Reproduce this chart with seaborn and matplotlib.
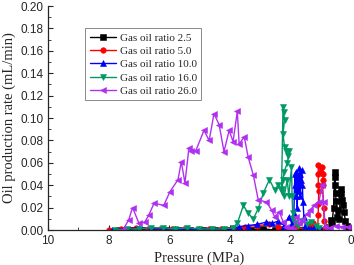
import numpy as np
import pandas as pd
import matplotlib
matplotlib.use("Agg")
import matplotlib.pyplot as plt
import seaborn as sns
from matplotlib.ticker import MultipleLocator

# Pressure (MPa) and oil production rate (mL/min)
p_25 = [7.65, 7.3, 6.9, 6.5, 6.1, 5.7, 5.3, 4.9, 4.5, 4.1, 3.7, 3.3, 2.9, 2.5, 2.2,
        1.9, 1.6, 1.3, 1.0, 0.8, 0.72, 0.66, 0.62, 0.57, 0.53, 0.52, 0.51, 0.5, 0.49,
        0.46, 0.42, 0.38, 0.34, 0.31, 0.28, 0.25, 0.22, 0.18, 0.14, 0.1]
r_25 = [0, 0, 0, 0, 0, 0, 0, 0, 0, 0, 0, 0, 0.001, 0, 0.001,
        0.001, 0, 0.001, 0, 0.001, 0.003, 0.009, 0.006, 0.02, 0.052, 0.047, 0.04, 0.033, 0.026,
        0.012, 0.018, 0.01, 0.037, 0.032, 0.027, 0.022, 0.016, 0.008, 0.004, 0.002]

p_50 = [8.0, 7.6, 7.1, 6.7, 6.3, 5.9, 5.5, 5.1, 4.7, 4.3, 3.9, 3.5, 3.1, 2.7, 2.4,
        2.1, 1.8, 1.5, 1.35, 1.25, 1.15, 1.09, 1.08, 1.07, 1.06, 1.07, 1.08, 1.07, 1.0,
        0.94, 0.92, 0.91, 0.93, 0.9, 0.88, 0.85]
r_50 = [0, 0.001, 0.002, 0.001, 0.001, 0.001, 0.001, 0, 0.001, 0.001, 0.002, 0.003, 0.004, 0.005, 0.003,
        0.001, 0.002, 0.001, 0.004, 0.006, 0.002, 0.0, 0.013, 0.023, 0.035, 0.04, 0.05, 0.058, 0.052,
        0.056, 0.05, 0.045, 0.04, 0.02, 0.008, 0.002]

p_100 = [7.9, 7.5, 7.0, 6.6, 6.2, 5.8, 5.4, 5.0, 4.6, 4.2, 3.9, 3.7, 3.4, 3.1, 2.8,
         2.6, 2.4, 2.2, 2.05, 1.95, 1.88, 1.86, 1.84, 1.82, 1.8, 1.79, 1.77, 1.75, 1.72,
         1.7, 1.69, 1.67, 1.65, 1.62, 1.6, 1.58, 1.55, 1.5, 1.4, 1.3, 1.2, 1.1, 1.0]
r_100 = [0, 0.001, 0.002, 0.001, 0.001, 0.001, 0, 0.001, 0.001, 0.001, 0.001, 0.003, 0.004, 0.005, 0.007,
         0.006, 0.008, 0.004, 0.012, 0.006, 0.015, 0.04, 0.05, 0.03, 0.052, 0.045, 0.02, 0.048, 0.035,
         0.055, 0.05, 0.03, 0.045, 0.054, 0.04, 0.025, 0.012, 0.004, 0.002, 0.001, 0.002, 0.001, 0]

p_160 = [7.8, 7.4, 7.0, 6.6, 6.2, 5.8, 5.4, 5.0, 4.6, 4.2, 3.9, 3.75, 3.55, 3.39, 3.22,
         3.06, 2.89, 2.69, 2.52, 2.4, 2.29, 2.24, 2.22, 2.19, 2.24, 2.19, 2.13, 2.07, 2.03,
         2.1, 2.2, 2.24, 2.27, 2.2, 2.1, 2.05, 1.96, 1.94, 1.92, 1.9, 1.85, 1.75, 1.6,
         1.45, 1.3, 1.15, 1.05]
r_160 = [0, 0.001, 0.001, 0.002, 0.002, 0.001, 0.002, 0.001, 0.001, 0.001, 0.002, 0.006, 0.022, 0.015, 0.01,
         0.019, 0.033, 0.045, 0.036, 0.04, 0.034, 0.11, 0.105, 0.098, 0.086, 0.074, 0.071, 0.066, 0.071,
         0.06, 0.052, 0.045, 0.037, 0.03, 0.045, 0.03, 0.056, 0.03, 0.015, 0.01, 0.006, 0.004, 0.008,
         0.005, 0.007, 0.004, 0.002]

p_260 = [7.53, 7.34, 7.21, 7.0, 6.81, 6.68, 6.5, 6.18, 5.98, 5.71, 5.6, 5.48, 5.35, 5.28, 5.12,
         4.85, 4.68, 4.52, 4.35, 4.19, 4.02, 3.89, 3.75, 3.69, 3.52, 3.39, 3.22, 3.06, 2.79,
         2.62, 2.52, 2.36, 2.23, 2.13, 2.0, 1.9, 1.8, 1.7, 1.6, 1.45, 1.35, 1.2, 1.05,
         0.96, 0.9, 0.85, 0.7, 0.5, 0.3, 0.1]
r_260 = [0, 0.009, 0.02, 0.006, 0.007, 0.013, 0.024, 0.022, 0.034, 0.045, 0.061, 0.042, 0.073, 0.071, 0.071,
         0.089, 0.08, 0.104, 0.094, 0.07, 0.089, 0.079, 0.106, 0.077, 0.083, 0.065, 0.049, 0.027, 0.025,
         0.018, 0.012, 0.016, 0.007, 0.003, 0.002, 0.0, 0.012, 0.006, 0.009, 0.014, 0.018, 0.022, 0.025,
         0.04, 0.025, 0.003, 0.002, 0.004, 0.003, 0.003]

labels = ["Gas oil ratio 2.5", "Gas oil ratio 5.0", "Gas oil ratio 10.0",
          "Gas oil ratio 16.0", "Gas oil ratio 26.0"]
colors = ["#000000", "#FF0000", "#0000FF", "#009966", "#B030F0"]
markers = ["s", "o", "^", "v", "<"]
series = [(p_25, r_25), (p_50, r_50), (p_100, r_100), (p_160, r_160), (p_260, r_260)]

sns.set_style("ticks")
plt.rcParams["font.family"] = ["Liberation Serif", "DejaVu Serif"]

fig = plt.figure(figsize=(3.54, 2.65), dpi=100)
ax = fig.add_axes([0.136, 0.132, 0.855, 0.845])

for (p, r), lab, c, m in zip(series, labels, colors, markers):
    sns.lineplot(x=p, y=r, ax=ax, sort=False, estimator=None, color=c, marker=m,
                 markersize=4, markeredgewidth=0.4, markeredgecolor=c,
                 linewidth=1.0, label=lab)

ax.set_xlim(10, 0)
ax.set_ylim(0, 0.2)
ax.xaxis.set_major_locator(MultipleLocator(2))
ax.xaxis.set_minor_locator(MultipleLocator(1))
ax.yaxis.set_major_locator(MultipleLocator(0.02))
ax.yaxis.set_minor_locator(MultipleLocator(0.01))
ax.tick_params(which="both", direction="in", labelsize=8.5)
ax.tick_params(which="major", length=3.5, width=0.8)
ax.tick_params(which="minor", length=2, width=0.6)
ax.set_xticklabels([f"{int(t)}" for t in ax.get_xticks()])
ax.set_yticklabels([f"{t:.2f}" for t in ax.get_yticks()])
for lab in ax.get_xticklabels() + ax.get_yticklabels():
    lab.set_fontfamily("Liberation Sans")
sns.despine(ax=ax)
for s in ["left", "bottom"]:
    ax.spines[s].set_linewidth(0.9)

ax.set_xlabel("Pressure (MPa)", fontsize=10.5, labelpad=3)
ax.set_ylabel("Oil production rate (mL/min)", fontsize=10.5, labelpad=3)

leg = ax.legend(loc="upper left", bbox_to_anchor=(0.122, 0.9), borderaxespad=0,
                fontsize=8, frameon=True, fancybox=False, handlelength=2.4,
                labelspacing=0.32, borderpad=0.4, handletextpad=0.3)
leg.get_frame().set_edgecolor("#555555")
leg.get_frame().set_linewidth(0.6)

fig.savefig("out.png", dpi=100)
